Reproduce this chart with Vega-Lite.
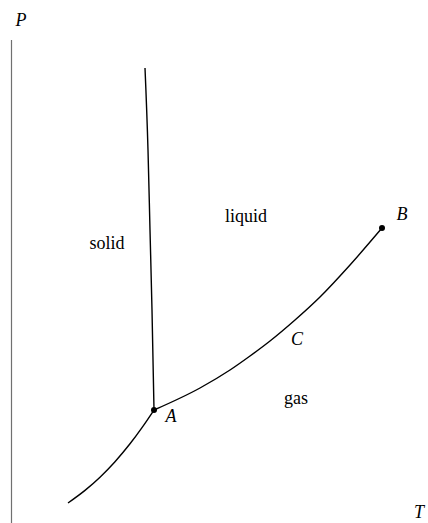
{
  "$schema": "https://vega.github.io/schema/vega-lite/v6.json",
  "width": 428,
  "height": 523,
  "padding": 0,
  "autosize": {"type": "none"},
  "background": "white",
  "config": {"view": {"stroke": null}},
  "datasets": {
    "curves": [
      {"curve": "fusion", "i": 0, "T": 145, "P": 455},
      {"curve": "fusion", "i": 1, "T": 148, "P": 373},
      {"curve": "fusion", "i": 2, "T": 150, "P": 293},
      {"curve": "fusion", "i": 3, "T": 152, "P": 213},
      {"curve": "fusion", "i": 4, "T": 154, "P": 113},
      {"curve": "sublimation", "i": 0, "T": 68, "P": 20},
      {"curve": "sublimation", "i": 1, "T": 85, "P": 32.6},
      {"curve": "sublimation", "i": 2, "T": 100, "P": 45.8},
      {"curve": "sublimation", "i": 3, "T": 115, "P": 61.3},
      {"curve": "sublimation", "i": 4, "T": 130, "P": 79.2},
      {"curve": "sublimation", "i": 5, "T": 142, "P": 95.4},
      {"curve": "sublimation", "i": 6, "T": 154, "P": 113},
      {"curve": "vaporization", "i": 0, "T": 154, "P": 113},
      {"curve": "vaporization", "i": 1, "T": 200, "P": 135},
      {"curve": "vaporization", "i": 2, "T": 230, "P": 153},
      {"curve": "vaporization", "i": 3, "T": 250, "P": 167},
      {"curve": "vaporization", "i": 4, "T": 270, "P": 182},
      {"curve": "vaporization", "i": 5, "T": 295, "P": 203},
      {"curve": "vaporization", "i": 6, "T": 320, "P": 226},
      {"curve": "vaporization", "i": 7, "T": 350, "P": 258},
      {"curve": "vaporization", "i": 8, "T": 382, "P": 295}
    ],
    "points": [
      {"name": "A", "T": 154, "P": 113},
      {"name": "B", "T": 382, "P": 295}
    ],
    "symbols": [
      {"text": "P", "T": 21, "P": 502},
      {"text": "T", "T": 419, "P": 10},
      {"text": "A", "T": 171, "P": 106},
      {"text": "B", "T": 402, "P": 308},
      {"text": "C", "T": 297, "P": 183},
      {"text": "solid", "T": 107, "P": 279, "roman": true},
      {"text": "liquid", "T": 246, "P": 306, "roman": true},
      {"text": "gas", "T": 296, "P": 124, "roman": true}
    ]
  },
  "layer": [
    {
      "data": {"values": [{"T": 11.5, "P0": 0, "P1": 483}]},
      "mark": {"type": "rule", "color": "#707070", "strokeWidth": 1.2},
      "encoding": {
        "x": {"field": "T", "type": "quantitative", "scale": {"domain": [0, 428], "nice": false, "zero": false}, "axis": null},
        "y": {"field": "P0", "type": "quantitative", "scale": {"domain": [0, 523], "nice": false, "zero": false}, "axis": null},
        "y2": {"field": "P1"}
      }
    },
    {
      "data": {"name": "curves"},
      "mark": {"type": "line", "color": "black", "strokeWidth": 1.4, "interpolate": "monotone"},
      "encoding": {
        "x": {"field": "T", "type": "quantitative"},
        "y": {"field": "P", "type": "quantitative"},
        "detail": {"field": "curve"},
        "order": {"field": "i", "type": "quantitative"}
      }
    },
    {
      "data": {"name": "points"},
      "mark": {"type": "point", "filled": true, "color": "black", "size": 36, "opacity": 1},
      "encoding": {
        "x": {"field": "T", "type": "quantitative"},
        "y": {"field": "P", "type": "quantitative"}
      }
    },
    {
      "data": {"name": "symbols"},
      "transform": [{"filter": "!datum.roman"}],
      "mark": {"type": "text", "font": "Liberation Serif", "fontSize": 18, "fontStyle": "italic", "align": "center", "baseline": "middle", "color": "black"},
      "encoding": {
        "x": {"field": "T", "type": "quantitative"},
        "y": {"field": "P", "type": "quantitative"},
        "text": {"field": "text"}
      }
    },
    {
      "data": {"name": "symbols"},
      "transform": [{"filter": "datum.roman"}],
      "mark": {"type": "text", "font": "Liberation Serif", "fontSize": 18, "align": "center", "baseline": "middle", "color": "black"},
      "encoding": {
        "x": {"field": "T", "type": "quantitative"},
        "y": {"field": "P", "type": "quantitative"},
        "text": {"field": "text"}
      }
    }
  ]
}
